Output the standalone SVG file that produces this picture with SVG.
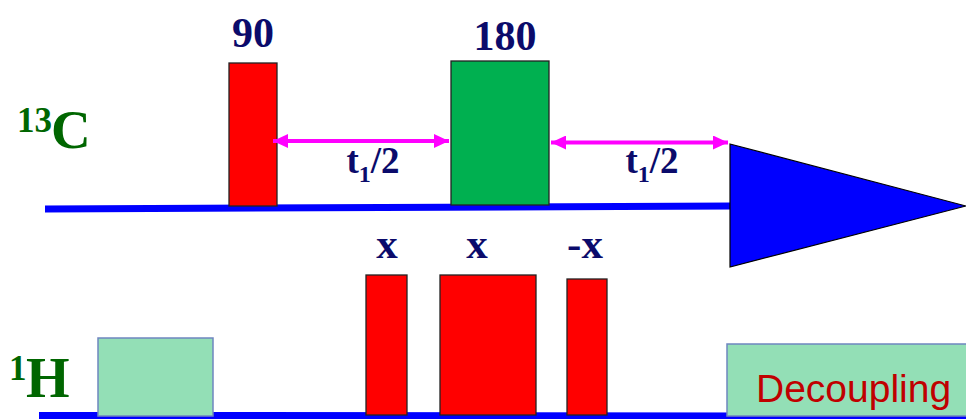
<svg xmlns="http://www.w3.org/2000/svg" width="966" height="419" viewBox="0 0 966 419">
<style>
.lbl{font-family:"Liberation Serif","Times New Roman",serif;font-weight:bold;fill:#0B0B6B}
.nuc{font-family:"Liberation Serif","Times New Roman",serif;font-weight:bold;fill:#006600}
.red{fill:#FF0000;stroke:#222;stroke-width:1.3}
.lg{fill:#93DFB6;stroke:#6F86C0;stroke-width:1.5}
.axis{stroke:#0000FF;stroke-width:7;fill:none}
.arr{stroke:#FF00FF;stroke-width:4;fill:none;marker-start:url(#ah);marker-end:url(#ah)}
</style>
<defs>
<marker id="ah" markerUnits="userSpaceOnUse" markerWidth="16" markerHeight="14" refX="15" refY="7" orient="auto-start-reverse">
<path d="M0,0 L15,7 L0,14 Z" fill="#FF00FF"/>
</marker>
</defs>
<rect width="966" height="419" fill="#FFFFFF"/>
<g id="axes">
<line class="axis" x1="45" y1="209" x2="732" y2="206"/>
<line class="axis" x1="39" y1="415.5" x2="966" y2="416"/>
</g>
<g id="label-13C">
<text class="nuc" x="17" y="132" font-size="35">13</text>
<text class="nuc" x="51" y="148" font-size="55">C</text>
</g>
<g id="label-1H">
<text class="nuc" x="9" y="380" font-size="35">1</text>
<text class="nuc" x="26" y="397" font-size="56">H</text>
</g>
<g id="pulse-90">
<rect class="red" x="229" y="63" width="48" height="143"/>
<text class="lbl" x="253" y="47" font-size="42" text-anchor="middle">90</text>
</g>
<g id="pulse-180">
<rect x="451" y="61" width="98" height="144" fill="#00B050" stroke="#222" stroke-width="1.3"/>
<text class="lbl" x="505" y="50" font-size="42" text-anchor="middle">180</text>
</g>
<g id="acquisition">
<polygon points="730,144 966,206 730,267" fill="#0000FF" stroke="#000" stroke-width="1.2"/>
</g>
<g id="connectors">
<line class="arr" x1="273" y1="141" x2="449" y2="141"/>
<line class="arr" x1="551" y1="142.5" x2="728" y2="142.5"/>
</g>
<g id="label-t1-left">
<text class="lbl" x="373" y="173" font-size="37" text-anchor="middle">t<tspan font-size="24" dy="9">1</tspan><tspan dy="-9">/2</tspan></text>
</g>
<g id="label-t1-right">
<text class="lbl" x="652" y="173" font-size="37" text-anchor="middle">t<tspan font-size="24" dy="9">1</tspan><tspan dy="-9">/2</tspan></text>
</g>
<g id="h-presat">
<rect class="lg" x="98" y="338" width="115" height="78"/>
</g>
<g id="h-pulse-1">
<rect class="red" x="366" y="275" width="41" height="140"/>
<text class="lbl" x="387" y="258" font-size="43" text-anchor="middle">x</text>
</g>
<g id="h-pulse-2">
<rect class="red" x="440" y="275" width="96" height="140"/>
<text class="lbl" x="477" y="258" font-size="43" text-anchor="middle">x</text>
</g>
<g id="h-pulse-3">
<rect class="red" x="567" y="279" width="40" height="136"/>
<text class="lbl" x="585" y="258" font-size="43" text-anchor="middle">-x</text>
</g>
<g id="decoupling">
<rect class="lg" x="727" y="344" width="250" height="72"/>
<text x="756" y="402" font-family="Liberation Sans, Arial, sans-serif" font-size="39" fill="#C00000">Decoupling</text>
</g>
</svg>
